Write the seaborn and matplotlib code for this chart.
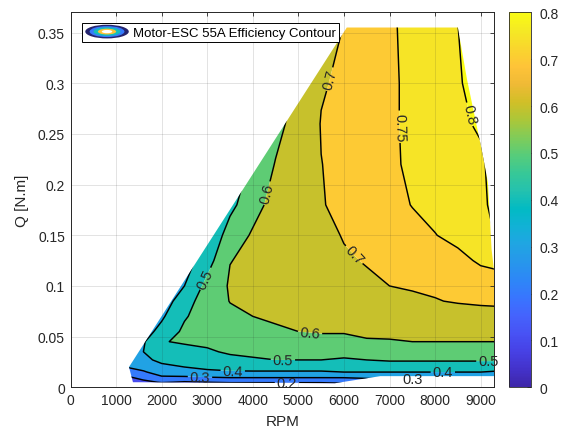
import numpy as np
import matplotlib
matplotlib.use("Agg")
import matplotlib.pyplot as plt
import seaborn as sns
from matplotlib.colors import LinearSegmentedColormap, Normalize
from matplotlib.patches import Polygon, Ellipse, Patch
from matplotlib.legend_handler import HandlerBase
from matplotlib.ticker import FormatStrFormatter
from matplotlib.cm import ScalarMappable

# ---------------- data ----------------
rpm = [1200, 1600, 2000, 2500, 3000, 3500, 4000, 4500, 5000,
       5500, 6000, 6500, 7000, 7500, 8000, 8500, 9000, 9300]
torque = [0.000, 0.005, 0.010, 0.015, 0.020, 0.027, 0.035, 0.045, 0.055,
          0.070, 0.085, 0.100, 0.125, 0.150, 0.180, 0.220, 0.260, 0.300, 0.360]

# efficiency, one list per RPM column (values along torque)
eff_1200 = [0.05, 0.12, 0.18, 0.24, 0.30, 0.33, 0.32, 0.30, 0.27, 0.23, 0.19, 0.15, 0.12, 0.10, 0.08, 0.07, 0.06, 0.05, 0.05]
eff_1600 = [0.05, 0.17, 0.24, 0.29, 0.33, 0.38, 0.40, 0.39, 0.36, 0.31, 0.26, 0.22, 0.18, 0.15, 0.12, 0.10, 0.09, 0.08, 0.07]
eff_2000 = [0.08, 0.21, 0.29, 0.34, 0.38, 0.42, 0.45, 0.495, 0.43, 0.385, 0.35, 0.31, 0.26, 0.21, 0.17, 0.14, 0.12, 0.11, 0.10]
eff_2500 = [0.10, 0.19, 0.29, 0.36, 0.40, 0.44, 0.47, 0.51, 0.52, 0.49, 0.45, 0.40, 0.35, 0.29, 0.24, 0.20, 0.18, 0.16, 0.15]
eff_3000 = [0.10, 0.20, 0.30, 0.38, 0.42, 0.46, 0.49, 0.515, 0.535, 0.55, 0.56, 0.53, 0.46, 0.40, 0.34, 0.28, 0.25, 0.22, 0.20]
eff_3500 = [0.10, 0.21, 0.31, 0.39, 0.43, 0.48, 0.51, 0.54, 0.56, 0.585, 0.602, 0.61, 0.598, 0.55, 0.47, 0.42, 0.36, 0.32, 0.28]
eff_4000 = [0.10, 0.21, 0.31, 0.39, 0.44, 0.49, 0.52, 0.55, 0.575, 0.60, 0.615, 0.62, 0.615, 0.61, 0.57, 0.52, 0.48, 0.44, 0.40]
eff_4500 = [0.10, 0.21, 0.31, 0.39, 0.44, 0.50, 0.53, 0.565, 0.59, 0.61, 0.625, 0.635, 0.64, 0.64, 0.63, 0.605, 0.57, 0.54, 0.50]
eff_5000 = [0.10, 0.21, 0.31, 0.39, 0.44, 0.50, 0.53, 0.57, 0.60, 0.62, 0.635, 0.645, 0.655, 0.665, 0.675, 0.68, 0.64, 0.62, 0.60]
eff_5500 = [0.10, 0.21, 0.31, 0.39, 0.44, 0.50, 0.53, 0.58, 0.605, 0.625, 0.64, 0.65, 0.665, 0.675, 0.697, 0.699, 0.703, 0.694, 0.69]
eff_6000 = [0.12, 0.22, 0.31, 0.40, 0.44, 0.49, 0.53, 0.58, 0.605, 0.63, 0.65, 0.67, 0.69, 0.705, 0.712, 0.715, 0.715, 0.712, 0.70]
eff_6500 = [0.15, 0.24, 0.32, 0.40, 0.45, 0.50, 0.55, 0.595, 0.61, 0.64, 0.665, 0.685, 0.705, 0.715, 0.72, 0.725, 0.725, 0.725, 0.73]
eff_7000 = [0.15, 0.25, 0.33, 0.40, 0.45, 0.51, 0.55, 0.595, 0.615, 0.65, 0.68, 0.70, 0.71, 0.72, 0.73, 0.735, 0.735, 0.735, 0.74]
eff_7500 = [0.15, 0.25, 0.33, 0.40, 0.45, 0.51, 0.55, 0.60, 0.62, 0.66, 0.69, 0.705, 0.72, 0.73, 0.752, 0.765, 0.77, 0.77, 0.77]
eff_8000 = [0.15, 0.25, 0.33, 0.40, 0.45, 0.51, 0.55, 0.60, 0.625, 0.665, 0.697, 0.71, 0.73, 0.749, 0.76, 0.77, 0.775, 0.78, 0.78]
eff_8500 = [0.15, 0.25, 0.33, 0.40, 0.45, 0.51, 0.55, 0.60, 0.63, 0.67, 0.705, 0.72, 0.74, 0.76, 0.77, 0.78, 0.785, 0.795, 0.80]
eff_9000 = [0.15, 0.25, 0.33, 0.40, 0.45, 0.51, 0.55, 0.60, 0.63, 0.675, 0.71, 0.73, 0.755, 0.77, 0.78, 0.785, 0.81, 0.82, 0.83]
eff_9300 = [0.15, 0.25, 0.33, 0.39, 0.45, 0.51, 0.55, 0.60, 0.63, 0.68, 0.71, 0.73, 0.76, 0.80, 0.82, 0.83, 0.83, 0.83, 0.83]

# measured operating envelope (outline of the filled area)
env_rpm = [1283, 1370, 5800, 6800, 9300, 9300, 9240, 9160, 9020, 8700, 8500, 6063]
env_q = [0.020, 0.005, 0.004, 0.011, 0.011, 0.113, 0.136, 0.202, 0.235, 0.304, 0.355, 0.355]

line_levels = [0.1, 0.2, 0.3, 0.4, 0.5, 0.6, 0.7, 0.75, 0.8]
legend_label = "Motor-ESC 55A Efficiency Contour"

# where the contour labels sit (RPM, Q)
label_spots = [(5690, 0.304), (7180, 0.257), (8830, 0.27), (4270, 0.192),
               (3060, 0.105), (6130, 0.127), (5250, 0.051), (4660, 0.026),
               (3560, 0.016), (2840, 0.009), (4750, 0.005), (7510, 0.008),
               (8170, 0.015), (9170, 0.026)]

# ---------------- styling ----------------
sns.set_theme(style="white")
plt.rcParams["font.family"] = ["Liberation Sans", "DejaVu Sans"]
plt.rcParams["axes.unicode_minus"] = False
dark = "#262626"

parula_anchors = [
    [0.2422, 0.1504, 0.6603], [0.2647, 0.1978, 0.7952], [0.2783, 0.2559, 0.8991],
    [0.2810, 0.3228, 0.9579], [0.2699, 0.3892, 0.9906], [0.2206, 0.4603, 0.9973],
    [0.1786, 0.5289, 0.9682], [0.1540, 0.5902, 0.9218], [0.1248, 0.6459, 0.8883],
    [0.0689, 0.6948, 0.8394], [0.0067, 0.7312, 0.7660], [0.1408, 0.7584, 0.6842],
    [0.2161, 0.7843, 0.5923], [0.3406, 0.8008, 0.4789], [0.5044, 0.7993, 0.3480],
    [0.6720, 0.7793, 0.2227], [0.8203, 0.7498, 0.1535], [0.9393, 0.7288, 0.2100],
    [0.9970, 0.7659, 0.2199], [0.9786, 0.8386, 0.1766], [0.9597, 0.9135, 0.1423],
    [0.9769, 0.9839, 0.0805]]
pos = np.array([0, 3, 6, 9, 12, 15, 18, 21, 24, 27, 30, 33, 36, 39, 42, 45, 48, 51, 54, 57, 60, 63]) / 63.0
parula = LinearSegmentedColormap.from_list("parula", list(zip(pos, parula_anchors)), N=256)
norm = Normalize(vmin=0.0, vmax=0.8)

columns = [eff_1200, eff_1600, eff_2000, eff_2500, eff_3000, eff_3500, eff_4000, eff_4500, eff_5000,
           eff_5500, eff_6000, eff_6500, eff_7000, eff_7500, eff_8000, eff_8500, eff_9000, eff_9300]
Z = np.array(columns).T
X, Y = np.meshgrid(rpm, torque)

fig = plt.figure(figsize=(5.65, 4.35), dpi=100)
ax = fig.add_axes([0.1248, 0.1074, 0.7501, 0.8620])
cax = fig.add_axes([0.901, 0.1074, 0.039, 0.8620])

fill_levels = [-1.0] + line_levels + [2.0]
fill_colors = [parula(norm(0.05))] + [parula(norm(v)) for v in line_levels]
cf = ax.contourf(X, Y, Z, levels=fill_levels, colors=fill_colors, antialiased=True)
cl = ax.contour(X, Y, Z, levels=line_levels, colors="black", linewidths=1.05)

env = Polygon(np.column_stack([env_rpm, env_q]), closed=True, transform=ax.transData,
              facecolor="none", edgecolor="none")
ax.add_patch(env)
cf.set_clip_path(env)
cl.set_clip_path(env)

ax.set_xlim(0, 9300)
ax.set_ylim(0, 0.37)

texts = ax.clabel(cl, fmt="%g", fontsize=10.5, inline=True, inline_spacing=2,
                  colors=dark, manual=label_spots)
for t in texts:
    t.set_clip_on(False)

ax.set_xticks(np.arange(0, 9001, 1000))
ax.set_yticks(np.arange(0, 0.351, 0.05))
ax.yaxis.set_major_formatter(FormatStrFormatter("%g"))
ax.grid(True, color=dark, alpha=0.15, linewidth=0.6)
ax.set_axisbelow(False)
ax.tick_params(direction="in", top=True, right=True, length=3, width=0.6,
               labelsize=10, colors=dark, pad=4)
for s in ax.spines.values():
    s.set_color(dark)
    s.set_linewidth(0.7)
ax.set_xlabel("RPM", fontsize=11, color=dark, labelpad=5)
ax.set_ylabel("Q [N.m]", fontsize=11, color=dark, labelpad=6)


class ContourIconHandler(HandlerBase):
    def create_artists(self, legend, orig_handle, xdescent, ydescent, width, height, fontsize, trans):
        cx = width / 2 - xdescent
        cy = height / 2 - ydescent
        arts = []
        rings = [(1.0, "#25246e"), (0.80, parula(0.25)), (0.62, parula(0.5)),
                 (0.42, parula(0.85)), (0.24, "white")]
        for frac, c in rings:
            e = Ellipse((cx, cy), width * frac, height * 1.25 * frac,
                        facecolor=c, edgecolor="none", transform=trans)
            arts.append(e)
        return arts


proxy = Patch()
leg = ax.legend([proxy], [legend_label], handler_map={proxy: ContourIconHandler()},
                loc="upper left", bbox_to_anchor=(0.027, 0.972), borderaxespad=0,
                fancybox=False, frameon=True, fontsize=9.5, handlelength=3.3,
                handleheight=0.9, handletextpad=0.3, borderpad=0.25)
leg.get_frame().set_edgecolor("black")
leg.get_frame().set_linewidth(0.7)
leg.get_frame().set_facecolor("white")
leg.get_frame().set_alpha(1.0)
for txt in leg.get_texts():
    txt.set_color("black")

sm = ScalarMappable(norm=norm, cmap=parula)
cb = fig.colorbar(sm, cax=cax)
cb.set_ticks(np.arange(0, 0.801, 0.1))
cb.ax.yaxis.set_major_formatter(FormatStrFormatter("%g"))
cax.tick_params(direction="in", length=3, width=0.6, labelsize=10, colors=dark, pad=6)
cb.outline.set_linewidth(0.6)
cb.outline.set_edgecolor(dark)

fig.savefig("out.png", dpi=100)
